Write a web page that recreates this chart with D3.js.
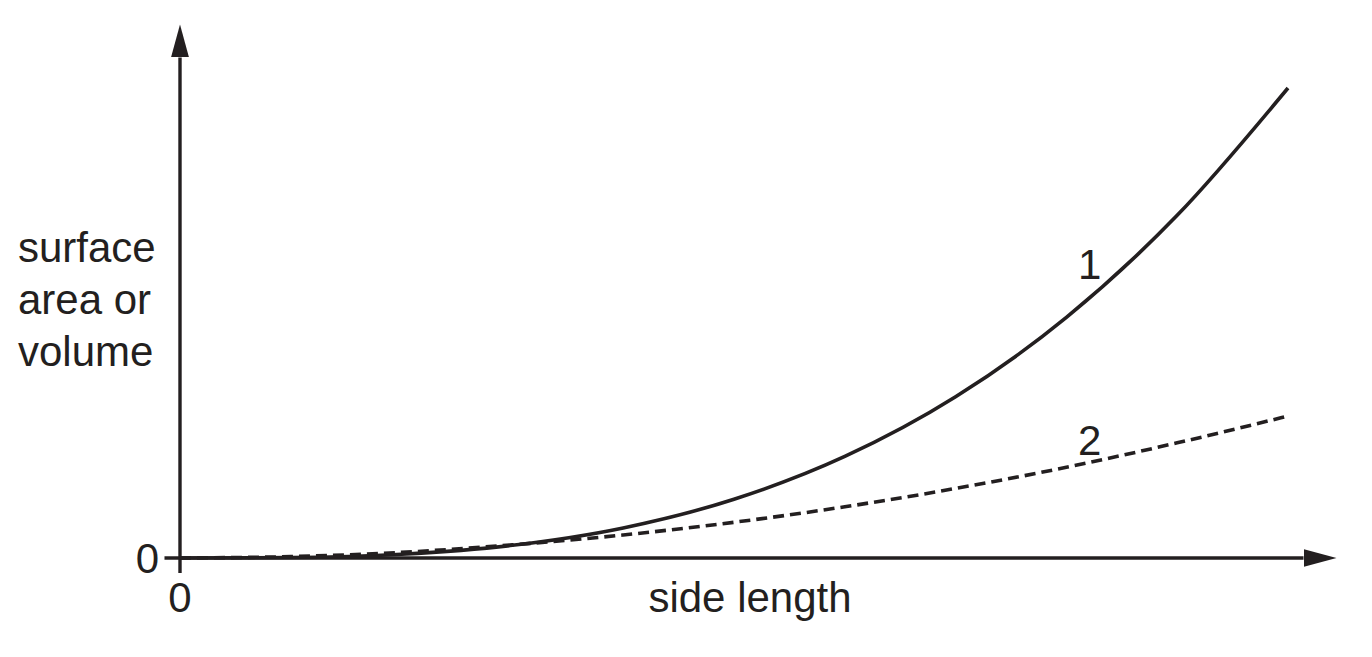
<!DOCTYPE html>
<html>
<head>
<meta charset="utf-8">
<script src="https://cdn.jsdelivr.net/npm/d3@7"></script>
<style>
    body { margin: 0; background: #fff; }
    text { font-family: "Liberation Sans", Arial, sans-serif; fill: #231f20; font-size: 42px; }
</style>
</head>
<body>
<script>
// side length (arbitrary units) and the two curves
const sideLength = [0, 1, 2, 3, 4, 5, 6, 7, 8, 9, 10];
const curve1 = [0, 0.1, 0.8, 2.7, 6.4, 12.5, 21.6, 34.3, 51.2, 72.9, 100];
const curve2 = [0, 0.3, 1.2, 2.8, 4.9, 7.6, 10.9, 14.8, 19.3, 24.5, 30.2];
const curveLabels = ["1", "2"];
const yLabelLines = ["surface", "area or", "volume"];
const xLabel = "side length";

const width = 1372, height = 657;
const ink = "#231f20";

const svg = d3.select("body")
    .append("svg")
    .attr("width", width)
    .attr("height", height);

const x = d3.scaleLinear().domain([0, 10]).range([180, 1288]);
const y = d3.scaleLinear().domain([0, 100]).range([558, 88]);

// arrow heads
const defs = svg.append("defs");
defs.append("marker")
    .attr("id", "arrow")
    .attr("viewBox", "0 0 33 18")
    .attr("refX", 0)
    .attr("refY", 9)
    .attr("markerWidth", 33)
    .attr("markerHeight", 18)
    .attr("markerUnits", "userSpaceOnUse")
    .attr("orient", "auto")
    .append("path")
    .attr("d", "M0,0 L33,9 L0,18 Z")
    .attr("fill", ink);

// x axis: starts a little left of the y axis, ends in an arrow
svg.append("line")
    .attr("x1", x(-0.14)).attr("y1", y(0))
    .attr("x2", x(10.14)).attr("y2", y(0))
    .attr("stroke", ink)
    .attr("stroke-width", 3.4)
    .attr("marker-end", "url(#arrow)");

// y axis
svg.append("line")
    .attr("x1", x(0)).attr("y1", y(-3.2))
    .attr("x2", x(0)).attr("y2", y(106.5))
    .attr("stroke", ink)
    .attr("stroke-width", 3.4)
    .attr("marker-end", "url(#arrow)");

const line = d3.line()
    .x((d, i) => x(sideLength[i]))
    .y(d => y(d))
    .curve(d3.curveMonotoneX);

svg.append("path")
    .datum(curve1)
    .attr("d", line)
    .attr("fill", "none")
    .attr("stroke", ink)
    .attr("stroke-width", 3.6);

svg.append("path")
    .datum(curve2)
    .attr("d", line)
    .attr("fill", "none")
    .attr("stroke", ink)
    .attr("stroke-width", 3.6)
    .attr("stroke-dasharray", "11,6");

// zero labels
svg.append("text")
    .attr("x", x(0) - 21)
    .attr("y", y(0) + 15)
    .attr("text-anchor", "end")
    .text("0");

svg.append("text")
    .attr("x", x(0))
    .attr("y", y(0) + 54)
    .attr("text-anchor", "middle")
    .text("0");

svg.append("text")
    .attr("x", (x(0) + x(10)) / 2 + 16)
    .attr("y", y(0) + 54)
    .attr("text-anchor", "middle")
    .text(xLabel);

svg.append("text")
    .selectAll("tspan")
    .data(yLabelLines)
    .enter()
    .append("tspan")
    .attr("x", 18)
    .attr("y", (d, i) => 262 + i * 52)
    .text(d => d);

// curve labels
svg.append("text")
    .attr("x", x(8.21))
    .attr("y", y(59.3))
    .attr("text-anchor", "middle")
    .text(curveLabels[0]);

svg.append("text")
    .attr("x", x(8.21))
    .attr("y", y(22))
    .attr("text-anchor", "middle")
    .text(curveLabels[1]);
</script>
</body>
</html>
